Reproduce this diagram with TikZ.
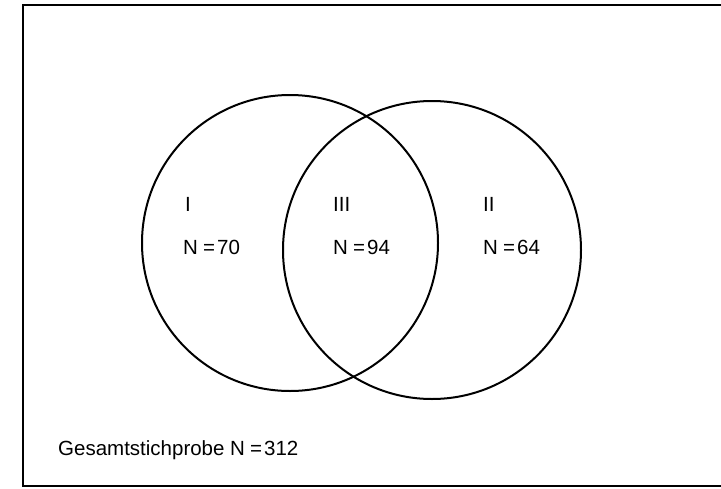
\documentclass[tikz,border=0pt]{standalone}
\usepackage{fontspec}
\setmainfont{Liberation Sans}
\tikzset{
  lbl/.style={anchor=base west, inner sep=0pt, font=\fontsize{20.5}{24}\selectfont},
  ring/.style={draw, line width=2pt},
  framel/.style={line width=2.4pt}
}
\newcommand{\eqN}[1]{N\hspace{0.25em}=\hspace{0.1em}#1}
\begin{document}
\begin{tikzpicture}[x=1pt, y=-1pt]
\useasboundingbox (0,0) rectangle (721,488);
\fill[white] (0,0) rectangle (721,488);
\coordinate (tl) at (23,5);
\coordinate (tr) at (721,5);
\coordinate (bl) at (23,486);
\coordinate (br) at (721,486);
\draw[framel] (tr) -- (tl) -- (bl) -- (br);
\node[ring, circle, minimum size=296pt, inner sep=0pt] (A) at (290,243) {};
\node[ring, circle, minimum size=298pt, inner sep=0pt] (B) at (432,250) {};
\node[lbl] (r1) at (185,211) {I};
\node[lbl] (r3) at (333,211) {III};
\node[lbl] (r2) at (483,211) {II};
\node[lbl] (n1) at (183,254) {\eqN{70}};
\node[lbl] (n3) at (333,254) {\eqN{94}};
\node[lbl] (n2) at (483,254) {\eqN{64}};
\node[lbl] (tot) at (58,455) {Gesamtstichprobe \eqN{312}};
\end{tikzpicture}
\end{document}
